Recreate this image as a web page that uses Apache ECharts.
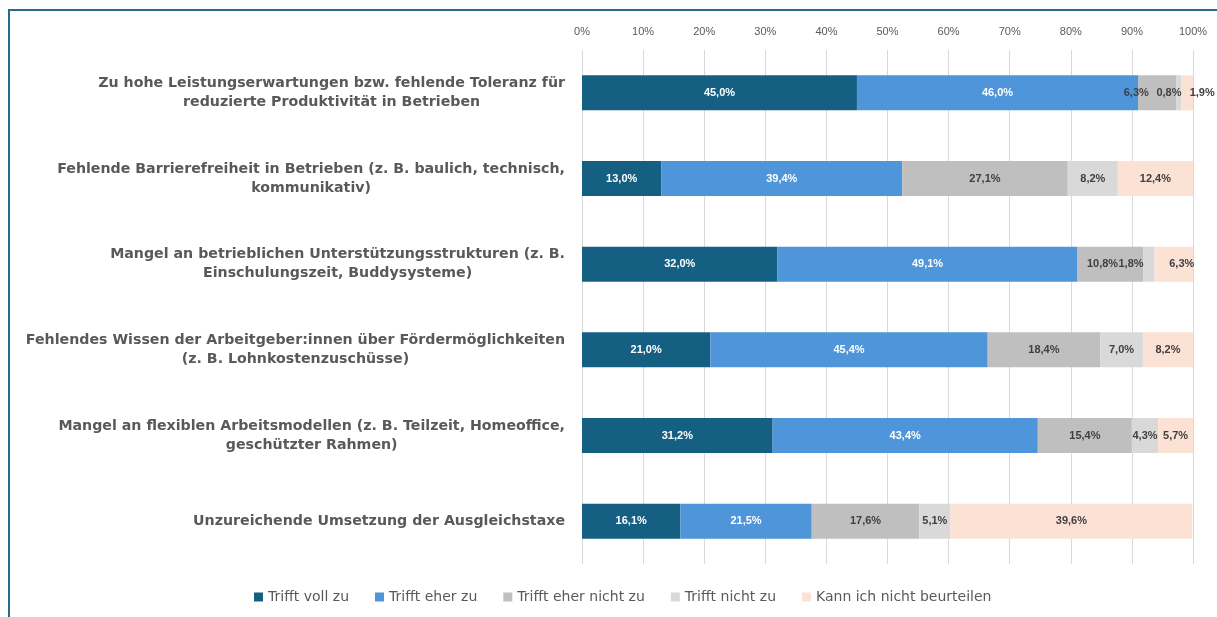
<!DOCTYPE html>
<html>
<head>
<meta charset="utf-8">
<script src="https://cdn.jsdelivr.net/npm/echarts@6/dist/echarts.min.js"></script>
<style>
  html, body { margin: 0; padding: 0; background: #fff; }
  #frame { position: absolute; left: 8px; top: 9px; width: 1300px; height: 700px; border: 2px solid #2a6b8b; }
  #main { position: absolute; left: 0; top: 0; width: 1217px; height: 617px; }
</style>
</head>
<body>
<div id="frame"></div>
<div id="main"></div>
<script>
// Kategorien (Zeilen, von oben nach unten)
var categories = [
  'Zu hohe Leistungserwartungen bzw. fehlende Toleranz für\nreduzierte Produktivität in Betrieben',
  'Fehlende Barrierefreiheit in Betrieben (z. B. baulich, technisch,\nkommunikativ)',
  'Mangel an betrieblichen Unterstützungsstrukturen (z. B.\nEinschulungszeit, Buddysysteme)',
  'Fehlendes Wissen der Arbeitgeber:innen über Fördermöglichkeiten\n(z. B. Lohnkostenzuschüsse)',
  'Mangel an flexiblen Arbeitsmodellen (z. B. Teilzeit, Homeoffice,\ngeschützter Rahmen)',
  'Unzureichende Umsetzung der Ausgleichstaxe'
];

var seriesNames = ['Trifft voll zu', 'Trifft eher zu', 'Trifft eher nicht zu', 'Trifft nicht zu', 'Kann ich nicht beurteilen'];

var trifftVoll      = [45.0, 13.0, 32.0, 21.0, 31.2, 16.1];
var trifftEher      = [46.0, 39.4, 49.1, 45.4, 43.4, 21.5];
var trifftEherNicht = [6.3, 27.1, 10.8, 18.4, 15.4, 17.6];
var trifftNicht     = [0.8, 8.2, 1.8, 7.0, 4.3, 5.1];
var kannNicht       = [1.9, 12.4, 6.3, 8.2, 5.7, 39.6];

var xTicks = [0, 10, 20, 30, 40, 50, 60, 70, 80, 90, 100];

var colors = ['#156082', '#4e95d9', '#bfbfbf', '#d9d9d9', '#fbe2d5'];
var labelColors = ['#ffffff', '#ffffff', '#404040', '#404040', '#404040'];

// Verschiebung der Beschriftungen, wo schmale Segmente sich überlappen (Serie -> Zeile -> dx)
var labelShift = {
  2: { 0: -21, 2: -8 },
  3: { 0: -10, 2: -18 },
  4: { 0: 15, 2: 8 }
};

var chart = echarts.init(document.getElementById('main'));

function fmt(v) {
  return v.toFixed(1).replace('.', ',') + '%';
}

var allData = [trifftVoll, trifftEher, trifftEherNicht, trifftNicht, kannNicht];

var series = allData.map(function (arr, si) {
  return {
    name: seriesNames[si],
    type: 'bar',
    stack: 'total',
    barWidth: 35,
    itemStyle: { color: colors[si] },
    label: {
      show: true,
      position: 'inside',
      color: labelColors[si],
      fontSize: 11,
      fontWeight: 'bold',
      fontFamily: 'Liberation Sans, Arial, sans-serif',
      formatter: function (p) { return fmt(p.value); }
    },
    data: arr.map(function (v, ri) {
      var d = { value: v };
      if (labelShift[si] && labelShift[si][ri] !== undefined) {
        d.label = { offset: [labelShift[si][ri], 0] };
      }
      return d;
    })
  };
});

var option = {
  animation: false,
  grid: { left: 582, right: 24, top: 50, bottom: 53 },
  legend: {
    data: seriesNames,
    bottom: 8,
    left: 249,
    icon: 'rect',
    itemWidth: 9,
    itemHeight: 9,
    itemGap: 26,
    textStyle: { color: '#595959', fontSize: 14, fontFamily: 'DejaVu Sans, sans-serif' }
  },
  xAxis: {
    type: 'value',
    position: 'top',
    min: xTicks[0],
    max: xTicks[xTicks.length - 1],
    interval: 10,
    axisLine: { show: false },
    axisTick: { show: false },
    axisLabel: {
      color: '#595959',
      fontSize: 11,
      margin: 13,
      fontFamily: 'Liberation Sans, Arial, sans-serif',
      formatter: '{value}%'
    },
    splitLine: { lineStyle: { color: '#d9d9d9' } }
  },
  yAxis: {
    type: 'category',
    inverse: true,
    data: categories,
    axisLine: { show: false },
    axisTick: { show: false },
    axisLabel: {
      margin: 17,
      formatter: function (v) {
        return v.split('\n').map(function (l) { return '{c|' + l + '}'; }).join('\n');
      },
      rich: {
        c: {
          align: 'center',
          color: '#595959',
          fontSize: 14.2,
          fontWeight: 'bold',
          lineHeight: 19,
          fontFamily: 'DejaVu Sans, sans-serif'
        }
      }
    }
  },
  series: series
};

chart.setOption(option);
</script>
</body>
</html>
